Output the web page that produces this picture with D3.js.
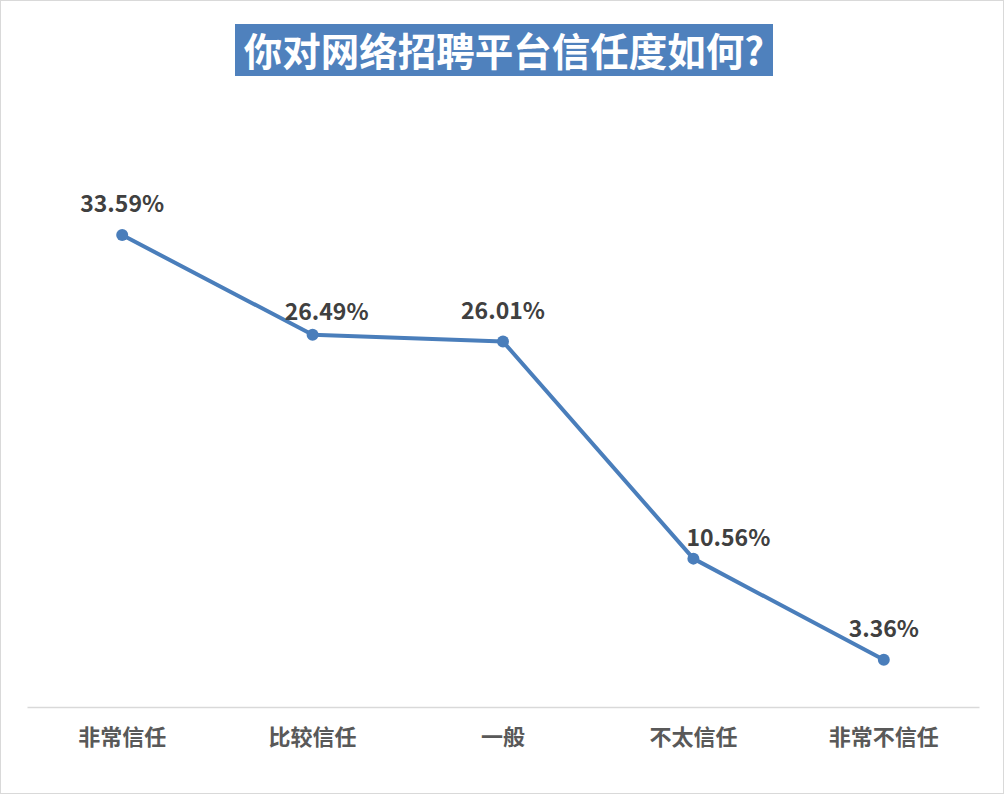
<!DOCTYPE html>
<html><head><meta charset="utf-8">
<script src="https://cdn.jsdelivr.net/npm/d3@7/dist/d3.min.js"></script>
<style>
html,body{margin:0;padding:0;background:#fff;}
svg{display:block;}
</style></head>
<body>
<script>
const categories = ["非常信任","比较信任","一般","不太信任","非常不信任"];
const values = [33.59, 26.49, 26.01, 10.56, 3.36];
const valueLabels = ["33.59%","26.49%","26.01%","10.56%","3.36%"];
const title = "你对网络招聘平台信任度如何?";

const W = 1004, H = 796;
const svg = d3.select("body").append("svg").attr("width", W).attr("height", H);
const font = "'Noto Sans CJK SC','Microsoft YaHei',sans-serif";

svg.append("rect").attr("x",0.5).attr("y",0.5).attr("width",W-1).attr("height",H-3)
  .attr("fill","#fff").attr("stroke","#d9d9d9").attr("stroke-width",1);

// title
svg.append("rect").attr("x",235).attr("y",24).attr("width",538).attr("height",52).attr("fill","#4F81BD");
svg.append("text").attr("x",504).attr("y",49).attr("text-anchor","middle").attr("dominant-baseline","central")
  .attr("font-family",font).attr("font-weight","bold").attr("font-size",38.5).attr("fill","#fff").text(title);

const x = d3.scaleBand().domain(categories).range([27, 979]);
const y = d3.scaleLinear().domain([0, 40]).range([707, 145]);

// axis
const axis = d3.axisBottom(x).tickSize(0).tickPadding(22);
const g = svg.append("g").attr("transform","translate(0,707)").call(axis);
g.select(".domain").attr("stroke","#d9d9d9").attr("stroke-width",1.5);
g.selectAll("text").attr("font-family",font).attr("font-weight","bold").attr("font-size",22).attr("fill","#595959");

const cx = d => x(d) + x.bandwidth()/2;
const line = d3.line().x((d,i)=>cx(categories[i])).y(d=>y(d));
svg.append("path").datum(values).attr("d",line).attr("fill","none")
  .attr("stroke","#4A7EBB").attr("stroke-width",4).attr("stroke-linejoin","round");

svg.selectAll("circle.pt").data(values).join("circle").attr("class","pt")
  .attr("cx",(d,i)=>cx(categories[i])).attr("cy",d=>y(d)).attr("r",6).attr("fill","#4A7EBB");

const labelDx = [0, 14, 0, 35, 0];
const labelDy = [0, 8, 0, 10, 0];
svg.selectAll("text.lbl").data(values).join("text").attr("class","lbl")
  .attr("x",(d,i)=>cx(categories[i])+labelDx[i]).attr("y",(d,i)=>y(d)-23+labelDy[i])
  .attr("text-anchor","middle").attr("font-family",font).attr("font-weight","bold")
  .attr("font-size",23).attr("fill","#404040").text((d,i)=>valueLabels[i]);
</script>
</body></html>
